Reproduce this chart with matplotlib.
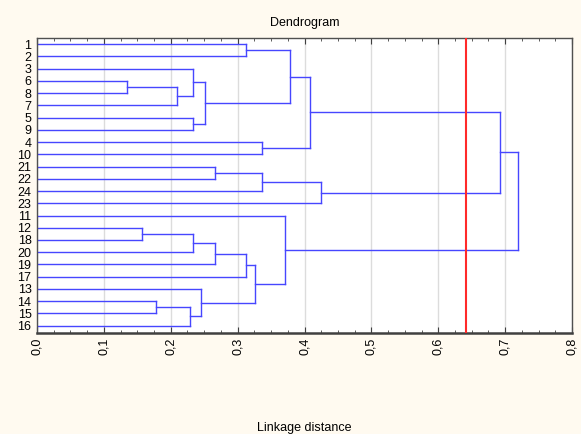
import matplotlib
matplotlib.use('Agg')
import matplotlib.pyplot as plt
from matplotlib.ticker import MultipleLocator, FuncFormatter

plt.rcParams['font.family'] = ['Liberation Sans', 'DejaVu Sans']

# Leaf order from top to bottom
leaves = ['1', '2', '3', '6', '8', '7', '5', '9', '4', '10', '21', '22',
          '24', '23', '11', '12', '18', '20', '19', '17', '13', '14', '15', '16']

# Merge steps: (cluster name, left child, right child, linkage distance)
merges = [
    ('c1', '6', '8', 0.135),
    ('c2', '12', '18', 0.157),
    ('c3', '14', '15', 0.178),
    ('c4', 'c1', '7', 0.209),
    ('c5', 'c3', '16', 0.229),
    ('c6', 'c2', '20', 0.233),
    ('c7', '3', 'c4', 0.234),
    ('c8', '5', '9', 0.234),
    ('c9', '13', 'c5', 0.245),
    ('c10', 'c7', 'c8', 0.251),
    ('c11', '21', '22', 0.266),
    ('c12', 'c6', '19', 0.266),
    ('c13', '1', '2', 0.312),
    ('c14', 'c12', '17', 0.312),
    ('c15', 'c14', 'c9', 0.326),
    ('c16', '4', '10', 0.336),
    ('c17', 'c11', '24', 0.336),
    ('c18', '11', 'c15', 0.371),
    ('c19', 'c13', 'c10', 0.379),
    ('c20', 'c19', 'c16', 0.408),
    ('c21', 'c17', '23', 0.424),
    ('c22', 'c20', 'c21', 0.692),
    ('c23', 'c22', 'c18', 0.720),
]

cut_distance = 0.642

fig = plt.figure(figsize=(5.81, 4.34), dpi=100, facecolor='#fffaf0')
ax = fig.add_axes([0.0637, 0.2327, 0.9208, 0.6797])
ax.set_facecolor('white')

line_color = '#4646ff'

# position and height of every node
pos = {name: i for i, name in enumerate(leaves)}
height = {name: 0.0 for name in leaves}

for name, a, b, d in merges:
    ya, yb = pos[a], pos[b]
    ax.plot([height[a], d], [ya, ya], color=line_color, lw=1)
    ax.plot([height[b], d], [yb, yb], color=line_color, lw=1)
    ax.plot([d, d], [ya, yb], color=line_color, lw=1)
    pos[name] = (ya + yb) / 2
    height[name] = d

ax.axvline(cut_distance, color='#ff2a2a', lw=1.5, zorder=5)

ax.set_xlim(0, 0.8)
ax.set_ylim(23.6, -0.5)
ax.set_yticks(range(len(leaves)))
ax.set_yticklabels(leaves, fontsize=9)
ax.tick_params(axis='y', length=0, pad=4)

ax.xaxis.set_major_locator(MultipleLocator(0.1))
ax.xaxis.set_minor_locator(MultipleLocator(0.025))
ax.xaxis.set_major_formatter(FuncFormatter(lambda v, p: f'{v:.1f}'.replace('.', ',')))
ax.tick_params(axis='x', which='both', direction='in', top=True, labelsize=9,
               labelrotation=90, color='#404040')
ax.tick_params(axis='x', which='major', length=4)
ax.tick_params(axis='x', which='minor', length=2)
ax.grid(axis='x', which='major', color='#dcdcdc', lw=1)
ax.set_axisbelow(True)

for side in ['left', 'top', 'right']:
    ax.spines[side].set_color('#505050')
    ax.spines[side].set_linewidth(1)
ax.spines['bottom'].set_color('#404040')
ax.spines['bottom'].set_linewidth(1.8)

ax.set_title('Dendrogram', fontsize=9, pad=9)
fig.text(0.5235, 0.008, 'Linkage distance', ha='center', fontsize=9)

fig.savefig('out.png', dpi=100, facecolor=fig.get_facecolor())
